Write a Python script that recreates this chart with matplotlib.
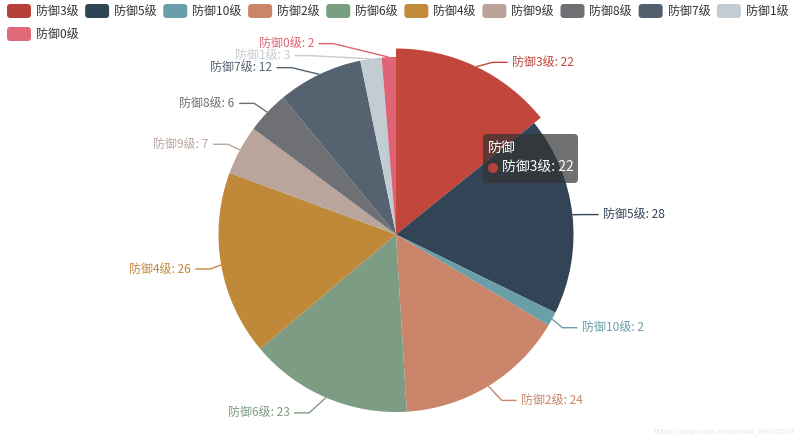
import matplotlib
matplotlib.use('Agg')
import matplotlib.pyplot as plt
import numpy as np
from matplotlib.patches import FancyBboxPatch, Circle

plt.rcParams['font.family'] = ['Noto Sans CJK SC', 'DejaVu Sans']

series_name = '防御'
names = ['防御3级', '防御5级', '防御10级', '防御2级', '防御6级', '防御4级',
         '防御9级', '防御8级', '防御7级', '防御1级', '防御0级']
values = [22, 28, 2, 24, 23, 26, 7, 6, 12, 3, 2]
colors = ['#c2463c', '#334456', '#6a9fa7', '#c9846a', '#7d9c84', '#c0893a',
          '#b9a59c', '#6e7074', '#556270', '#c4ccd3', '#e06375']
legend_colors = ['#b8403a', '#2f4554', '#67a0a8', '#c9846a', '#7a9e80', '#c28a3a',
                 '#bba39a', '#6e7074', '#525f6c', '#c4ccd3', '#e06878']
hover = 0  # slice under the mouse

# pixel layout (y grows downwards)
W, H = 800, 440
CX, CY = 396, 234.5
R = 177.5
R_HOVER = 186
L1, L2 = 15, 15
TXT = 8.64  # 12px

fig = plt.figure(figsize=(W / 100, H / 100), dpi=100)
ax = fig.add_axes([0, 0, 1, 1])

wedges, _ = ax.pie(values, colors=colors, startangle=-90, counterclock=True,
                   center=(CX, CY), radius=R, wedgeprops=dict(linewidth=0))
wedges[hover].set_radius(R_HOVER)
ax.set_xlim(0, W)
ax.set_ylim(H, 0)
ax.set_aspect('equal')
ax.axis('off')

# label layout, like echarts pie labels
labels = []
for i, w in enumerate(wedges):
    mid = np.deg2rad((w.theta1 + w.theta2) / 2)
    dx, dy = np.cos(mid), np.sin(mid)
    r0 = w.r
    labels.append(dict(i=i, x1=CX + r0 * dx, y1=CY + r0 * dy,
                       y=CY + (R + L1) * dy + 1.5, side=1 if dx >= 0 else -1))

for side in (1, -1):
    lst = sorted([l for l in labels if l['side'] == side], key=lambda l: l['y'])
    prev = -1e9
    for l in lst:
        if l['y'] < prev + 12:
            l['y'] = prev + 12
        prev = l['y']
    up = [l for l in lst if l['y'] < CY]
    down = [l for l in lst if l['y'] >= CY]
    last = 0
    for l in up:
        ddy = abs(l['y'] - CY)
        ddx = np.sqrt(max((R + L1 + L2) ** 2 - ddy ** 2, 0))
        if ddx <= last:
            ddx = last + 10
        l['x'] = CX + side * ddx
        last = ddx
    last = 1e9
    for l in down:
        ddy = abs(l['y'] - CY)
        ddx = np.sqrt(max((R + L1 + L2) ** 2 - ddy ** 2, 0))
        if ddx >= last:
            ddx = last - 10
        l['x'] = CX + side * ddx
        last = ddx

for l in labels:
    i, side = l['i'], l['side']
    x3 = l['x'] - 4 * side
    x2 = x3 - side * L2
    ax.plot([l['x1'], x2, x3], [l['y1'], l['y'], l['y']], color=colors[i], lw=1,
            solid_capstyle='butt')
    ax.text(l['x'] + 0.5 * side, l['y'], f'{names[i]}: {values[i]}', color=colors[i],
            fontsize=TXT, ha='left' if side > 0 else 'right', va='center')

# legend
renderer = fig.canvas.get_renderer()
lx, ly = 7, 11
for i, name in enumerate(names):
    t = ax.text(0, 0, name, fontsize=TXT)
    bb = t.get_window_extent(renderer)
    t.remove()
    item_w = 24 + 5 + bb.width
    if lx + item_w > W - 5:
        lx, ly = 7, ly + 23
    ax.add_patch(FancyBboxPatch((lx, ly - 7), 24, 14,
                                boxstyle='round,pad=0,rounding_size=3.5',
                                facecolor=legend_colors[i], edgecolor='none'))
    ax.text(lx + 29, ly + 0.5, name, fontsize=TXT, color='#333333', va='center', ha='left')
    lx += item_w + 6.5

# tooltip for the hovered slice
ax.add_patch(FancyBboxPatch((483, 134), 95, 49, boxstyle='round,pad=0,rounding_size=4',
                            facecolor=(0.2, 0.2, 0.2, 0.7), edgecolor='none', zorder=10))
ax.text(488, 148, series_name, fontsize=10, color='white', va='center', ha='left', zorder=11)
ax.add_patch(Circle((493, 168), 5, facecolor=legend_colors[hover], edgecolor='none', zorder=11))
ax.text(502, 168, f'{names[hover]}: {values[hover]}', fontsize=10, color='white',
        va='center', ha='left', zorder=11)

ax.text(795, 432, 'https://blog.csdn.net/weixin_39032019', fontsize=5.2, color='#e4e4e4',
        ha='right', va='center', family='DejaVu Sans')

fig.savefig('out.png', dpi=100)
